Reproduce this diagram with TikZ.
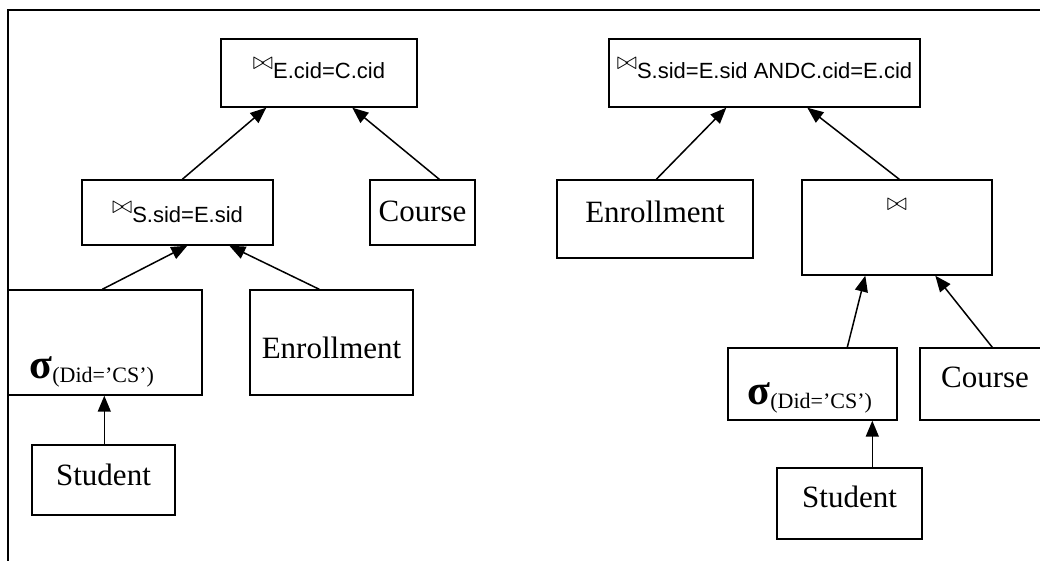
\documentclass[tikz,border=0pt]{standalone}
\usepackage{fontspec}
\setmainfont{Liberation Serif}
\setsansfont{Liberation Sans}
\usetikzlibrary{arrows.meta,calc}

% small raised join symbol
\newcommand{\jn}{\raisebox{9pt}{\fontsize{24}{24}\selectfont$\bowtie$}}
% selection operator with its condition
\newcommand{\sel}{{\fontsize{42}{42}\selectfont\bfseries σ}\raisebox{-4pt}{\fontsize{22}{22}\selectfont (Did=’CS’)}}

\begin{document}
\begin{tikzpicture}[x=1pt,y=-1pt,
  box/.style={draw,line width=1.4pt,rectangle,inner sep=0pt},
  rel/.style={box,font=\fontsize{31}{31}\selectfont,text height=19pt,text depth=12pt},
  cond/.style={box,font=\sffamily\fontsize{22}{22}\selectfont,text height=15pt,text depth=4pt},
  lbl/.style={inner sep=0pt,anchor=base west},
  arr/.style={line width=1.5pt,-{Triangle[length=16pt,width=13pt]}}]
\useasboundingbox (0,0) rectangle (1040,560);
\clip (0,0) rectangle (1040,560);

% outer frame
\draw[line width=2pt] (8,580) -- (8,10) -- (1060,10);

% left plan
\node[cond,minimum width=196,minimum height=68] (j1) at (319,73) {\jn E.cid=C.cid};
\node[cond,minimum width=191,minimum height=65,text height=20pt,text depth=0pt] (j2) at (177.5,212.5) {\jn S.sid=E.sid};
\node[rel,minimum width=105,minimum height=65,text height=22pt,text depth=4pt] (cL) at (422.5,212.5) {Course};
\node[box,minimum width=194,minimum height=105] (sL) at (105,342.5) {};
\node[lbl] (sLt) at ($(sL.south west)+(22,-17)$) {\sel};
\node[rel,minimum width=163,minimum height=105,text height=32pt,text depth=0pt] (eL) at (331.5,342.5) {Enrollment};
\node[rel,minimum width=143,minimum height=70,text height=22pt,text depth=12pt] (stL) at (103.5,480) {Student};

\draw[arr] ($(j2.north west)+(101,0)$) -- ($(j1.south west)+(46,0)$);
\draw[arr] ($(cL.north west)+(70,0)$) -- ($(j1.south west)+(132,0)$);
\draw[arr] ($(sL.north west)+(95,0)$) -- ($(j2.south west)+(106,0)$);
\draw[arr] ($(eL.north west)+(70,0)$) -- ($(j2.south west)+(148,0)$);
\draw[arr] ($(stL.north west)+(73,0)$) -- ($(sL.south west)+(97,0)$);

% right plan
\node[cond,minimum width=311,minimum height=68] (jR) at (764.5,73) {\jn S.sid=E.sid ANDC.cid=E.cid};
\node[rel,minimum width=196,minimum height=78] (eR) at (655,219) {Enrollment};
\node[box,minimum width=190,minimum height=95] (bR) at (897,227.5) {};
\node[inner sep=0pt] (bRt) at ($(bR.north)+(0,25)$) {\fontsize{24}{24}\selectfont$\bowtie$};
\node[box,minimum width=169,minimum height=72] (sR) at (812.5,384) {};
\node[lbl] (sRt) at ($(sR.south west)+(20,-16)$) {\sel};
\node[rel,minimum width=130,minimum height=72] (cR) at (985,384) {Course};
\node[rel,minimum width=145,minimum height=71] (stR) at (849.5,503.5) {Student};

\draw[arr] ($(eR.north west)+(100,0)$) -- ($(jR.south west)+(118,0)$);
\draw[arr] ($(bR.north west)+(98,0)$) -- ($(jR.south west)+(199,0)$);
\draw[arr] ($(sR.north west)+(120,0)$) -- ($(bR.south west)+(64,0)$);
\draw[arr] ($(cR.north west)+(73,0)$) -- ($(bR.south west)+(134,0)$);
\draw[arr] ($(stR.north west)+(96,0)$) -- ($(sR.south west)+(145,0)$);
\end{tikzpicture}
\end{document}
